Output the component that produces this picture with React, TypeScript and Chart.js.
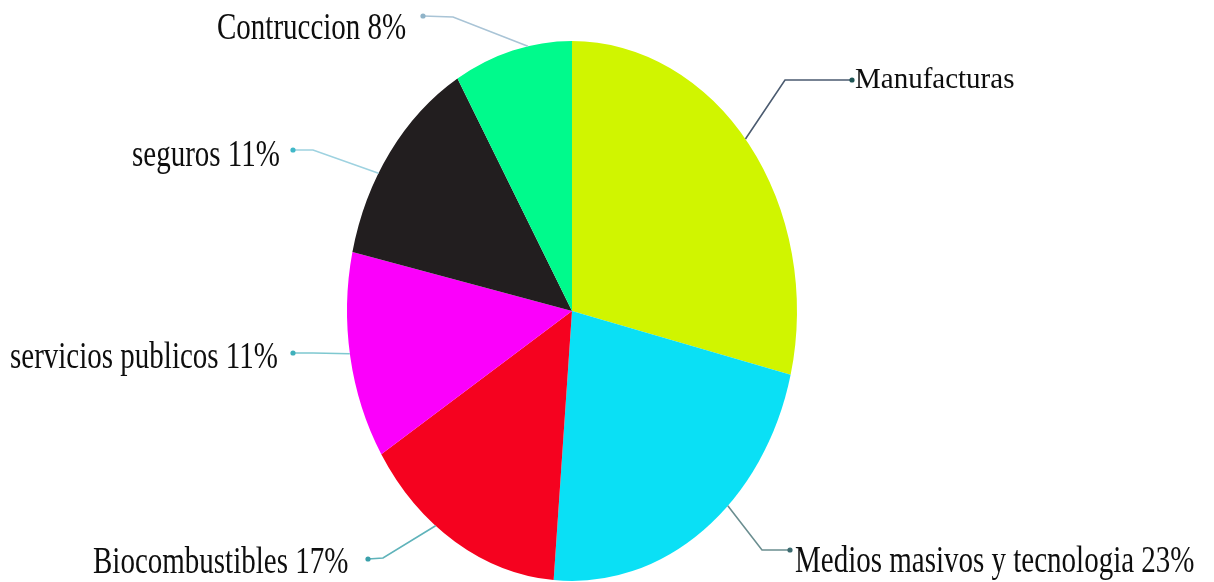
import React, { useEffect, useRef } from "react";
import { Chart, registerables } from "chart.js";

Chart.register(...registerables);

// ---- data ----
const categories = [
  "Manufacturas",
  "Medios masivos y tecnologia",
  "Biocombustibles",
  "servicios publicos",
  "seguros",
  "Contruccion",
];
const shares = [28.8, 22.5, 14.8, 12.4, 13.0, 8.5];
const labelTexts = [
  "Manufacturas",
  "Medios masivos y tecnologia 23%",
  "Biocombustibles 17%",
  "servicios publicos 11%",
  "seguros 11%",
  "Contruccion 8%",
];
const sliceColors = ["#d0f500", "#0ae0f5", "#f5021f", "#fb00fb", "#221e1f", "#00fa8c"];

// ---- layout / style ----
const STRETCH_Y = 1.2;
const FONT = "29px 'Liberation Serif', 'Times New Roman', serif";
// anchorShift: degrees added to the slice mid-angle where the leader line meets the pie
const labelLayout = [
  { textX: 855, baseY: 88, dot: [852, 80], elbow: [785, 80], anchorShift: -1.4, line: "#4b5b70", dotColor: "#1f5555", scaleY: 1.0 },
  { textX: 795, baseY: 572, dot: [790, 550], elbow: [762, 550], anchorShift: -8, line: "#6b8e90", dotColor: "#3d6b70", scaleY: 1.3 },
  { textX: 93, baseY: 573, dot: [368, 559], elbow: [383, 558], anchorShift: 6, line: "#5fb3ba", dotColor: "#3aa0aa", scaleY: 1.3 },
  { textX: 10, baseY: 368, dot: [293, 353], elbow: [313, 353], anchorShift: 0.6, line: "#7ec8d0", dotColor: "#3fb0bb", scaleY: 1.3 },
  { textX: 132, baseY: 166, dot: [293, 150], elbow: [313, 150], anchorShift: -5.3, line: "#9ed2e0", dotColor: "#40b8c8", scaleY: 1.3 },
  { textX: 217, baseY: 39, dot: [423, 16], elbow: [453, 17], anchorShift: 4, line: "#a9c4d6", dotColor: "#8fb3c8", scaleY: 1.3 },
];

const ellipsePlugin = {
  id: "ellipsePie",
  beforeDatasetsDraw(chart: any) {
    const meta = chart.getDatasetMeta(0);
    const arc = meta.data[0];
    if (!arc) return;
    const ctx = chart.ctx;
    ctx.save();
    ctx.translate(arc.x, arc.y);
    ctx.scale(1, STRETCH_Y);
    ctx.translate(-arc.x, -arc.y);
  },
  afterDatasetsDraw(chart: any) {
    chart.ctx.restore();
  },
  afterDraw(chart: any) {
    const ctx = chart.ctx;
    const meta = chart.getDatasetMeta(0);
    meta.data.forEach((arc: any, i: number) => {
      const L = labelLayout[i];
      const mid = (arc.startAngle + arc.endAngle) / 2 + (L.anchorShift * Math.PI) / 180;
      const ax = arc.x + arc.outerRadius * Math.cos(mid);
      const ay = arc.y + arc.outerRadius * STRETCH_Y * Math.sin(mid);
      ctx.save();
      ctx.strokeStyle = L.line;
      ctx.lineWidth = 1.6;
      ctx.beginPath();
      ctx.moveTo(L.dot[0], L.dot[1]);
      ctx.lineTo(L.elbow[0], L.elbow[1]);
      ctx.lineTo(ax, ay);
      ctx.stroke();
      ctx.fillStyle = L.dotColor;
      ctx.beginPath();
      ctx.arc(L.dot[0], L.dot[1], 2.6, 0, Math.PI * 2);
      ctx.fill();
      ctx.translate(L.textX, L.baseY);
      ctx.scale(1, L.scaleY);
      ctx.font = FONT;
      ctx.fillStyle = "#0e0e0e";
      ctx.textAlign = "left";
      ctx.textBaseline = "alphabetic";
      ctx.fillText(labelTexts[i], 0, 0);
      ctx.restore();
    });
  },
};

export default function App() {
  const ref = useRef<HTMLCanvasElement | null>(null);
  useEffect(() => {
    if (!ref.current) return;
    const chart = new Chart(ref.current, {
      type: "pie",
      data: {
        labels: categories,
        datasets: [
          {
            data: shares,
            backgroundColor: sliceColors,
            borderWidth: 0,
            hoverOffset: 0,
            offset: 0,
            clip: false,
          } as any,
        ],
      },
      options: {
        animation: false,
        responsive: true,
        maintainAspectRatio: false,
        devicePixelRatio: 1,
        radius: 225,
        layout: { padding: { left: 347, right: 417, top: 86, bottom: 46 } },
        plugins: { legend: { display: false }, tooltip: { enabled: false } },
        events: [],
      } as any,
      plugins: [ellipsePlugin],
    });
    return () => chart.destroy();
  }, []);
  return (
    <div style={{ position: "absolute", left: 0, top: 0, width: 1214, height: 582, background: "#fff" }}>
      <canvas ref={ref} />
    </div>
  );
}
